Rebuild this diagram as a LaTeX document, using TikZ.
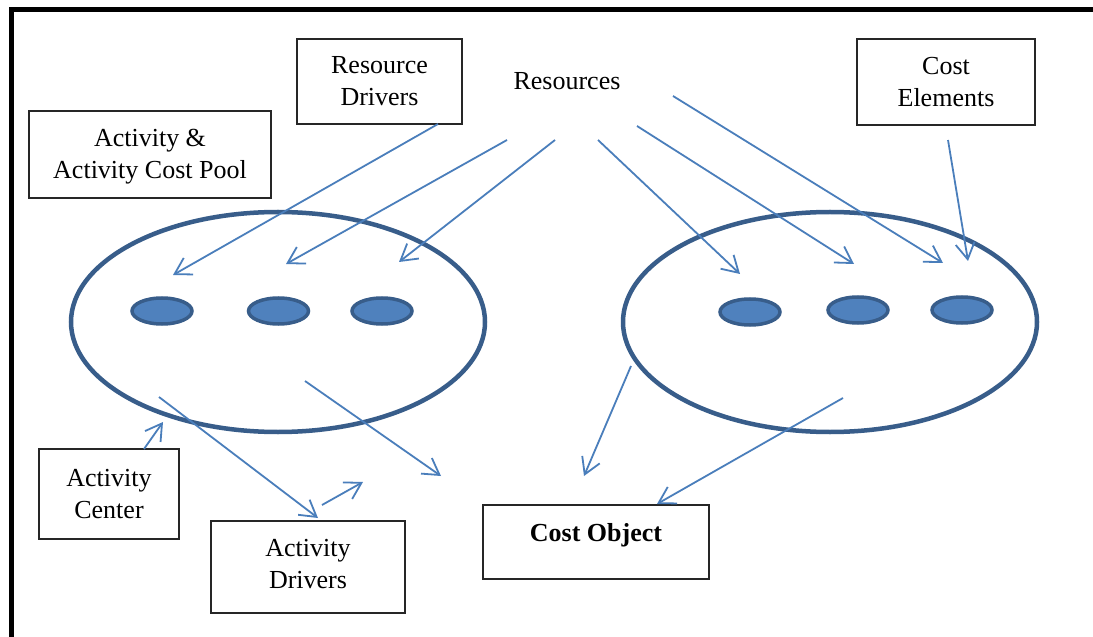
\documentclass[tikz,border=0pt]{standalone}
\usepackage{fontspec}
\setmainfont{Liberation Serif}
\usetikzlibrary{arrows.meta,shapes.geometric}
\definecolor{ringblue}{HTML}{385D8A}
\definecolor{dotblue}{HTML}{4F81BD}
\definecolor{arrowblue}{HTML}{4A7EBB}
\newcommand{\shiftup}[2]{\raisebox{#1}[\height][\depth]{#2}}
\tikzset{
  labelbox/.style={draw=black!85,line width=1.3bp,inner sep=0pt,align=center,
    font=\fontsize{26bp}{32bp}\selectfont},
  ring/.style={ellipse,draw=ringblue,line width=4.5bp,inner sep=0pt,
    minimum width=414bp,minimum height=220bp},
  dot/.style={ellipse,draw=ringblue,fill=dotblue,line width=3.5bp,inner sep=0pt,
    minimum width=60bp,minimum height=26bp},
  flow/.style={draw=arrowblue,line width=1.8bp,
    -{Straight Barb[length=16bp,width=19bp,line width=1.8bp]}},
}
\begin{document}
\begin{tikzpicture}[x=1bp,y=-1bp]
\useasboundingbox (0,0) rectangle (1093,637);
\fill[white] (0,0) rectangle (1093,637);
% frame
\draw[line width=5bp,line join=miter] (11,637) -- (11,9.5) -- (1093,9.5);

% boxes
\node[labelbox,minimum width=165bp,minimum height=85bp] (rd) at (379.5,81.5) {Resource\\Drivers};
\node[labelbox,minimum width=242bp,minimum height=87bp] (acp) at (150,154.5) {\shiftup{-2bp}{Activity \&}\\\shiftup{-2bp}{Activity Cost Pool}};
\node[labelbox,minimum width=178bp,minimum height=86bp] (ce) at (946,82) {Cost\\Elements};
\node[labelbox,minimum width=140bp,minimum height=90bp] (ac) at (109,494) {Activity\\Center};
\node[labelbox,minimum width=194bp,minimum height=92bp] (ad) at (308,567) {\shiftup{2.5bp}{Activity}\\\shiftup{2.5bp}{Drivers}};
\node[labelbox,minimum width=226bp,minimum height=74bp] (co) at (596,542) {\shiftup{7bp}{\textbf{Cost Object}}};
\node[font=\fontsize{26bp}{32bp}\selectfont,inner sep=0pt] (res) at (567,81) {Resources};

% ellipses
\node[ring] (left) at (278,322) {};
\node[ring] (right) at (830,322) {};
\node[dot] (l1) at (162,311) {};
\node[dot] (l2) at (278.5,311) {};
\node[dot] (l3) at (382,311) {};
\node[dot] (r1) at (750,312) {};
\node[dot] (r2) at (858,310) {};
\node[dot] (r3) at (962,310) {};

% arrow coordinates
\coordinate (a1s) at (438,124);  \coordinate (a1e) at (173,275);
\coordinate (a2s) at (507,140);  \coordinate (a2e) at (286,264);
\coordinate (a3s) at (555,140);  \coordinate (a3e) at (399,262);
\coordinate (a4s) at (598,140);  \coordinate (a4e) at (740,274);
\coordinate (a5s) at (637,126);  \coordinate (a5e) at (854,264);
\coordinate (a6s) at (673,96);   \coordinate (a6e) at (943,263);
\coordinate (a7s) at (948,140);  \coordinate (a7e) at (968,261);
\coordinate (a8s) at (144,449);  \coordinate (a8e) at (163,422);
\coordinate (a9s) at (159,397);  \coordinate (a9e) at (318,518);
\coordinate (a10s) at (322,505); \coordinate (a10e) at (363,482);
\coordinate (a11s) at (305,381); \coordinate (a11e) at (441,476);
\coordinate (a12s) at (631,366); \coordinate (a12e) at (584,476);
\coordinate (a13s) at (843,398); \coordinate (a13e) at (657,504);

\draw[flow] (a1s) -- (a1e);
\draw[flow] (a2s) -- (a2e);
\draw[flow] (a3s) -- (a3e);
\draw[flow] (a4s) -- (a4e);
\draw[flow] (a5s) -- (a5e);
\draw[flow] (a6s) -- (a6e);
\draw[flow] (a7s) -- (a7e);
\draw[flow] (a8s) -- (a8e);
\draw[flow] (a9s) -- (a9e);
\draw[flow] (a10s) -- (a10e);
\draw[flow] (a11s) -- (a11e);
\draw[flow] (a12s) -- (a12e);
\draw[flow] (a13s) -- (a13e);
\end{tikzpicture}
\end{document}
